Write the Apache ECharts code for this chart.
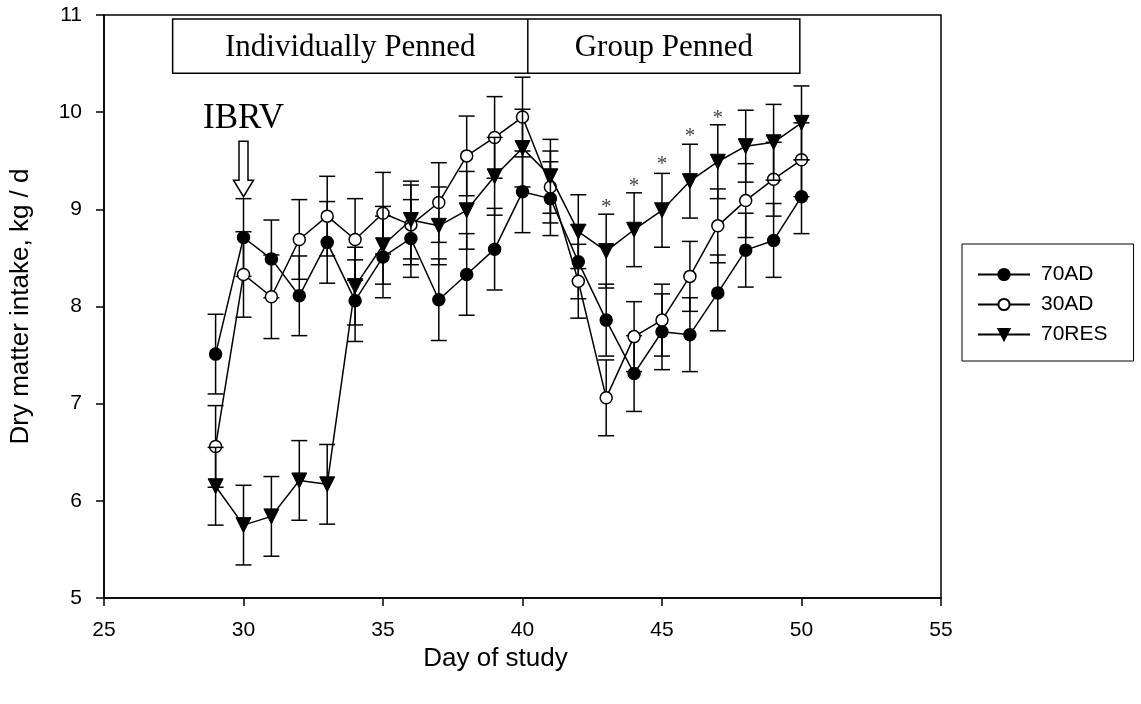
<!DOCTYPE html>
<html>
<head>
<meta charset="utf-8">
<title>Dry matter intake</title>
<script src="https://cdn.jsdelivr.net/npm/echarts@6/dist/echarts.min.js"></script>
<style>
  html, body { margin: 0; padding: 0; background: #ffffff; }
  #chart { width: 1141px; height: 704px; }
</style>
</head>
<body>
<div id="chart"></div>
<script>
// days of study
const days = [29, 30, 31, 32, 33, 34, 35, 36, 37, 38, 39, 40, 41, 42, 43, 44, 45, 46, 47, 48, 49, 50]

// means, kg / d
const ad70 = [7.51, 8.71, 8.49, 8.11, 8.66, 8.06, 8.51, 8.70, 8.07, 8.33, 8.59, 9.18, 9.11, 8.46, 7.86, 7.31, 7.74, 7.71, 8.14, 8.58, 8.68, 9.13]
const ad30 = [6.56, 8.33, 8.10, 8.69, 8.93, 8.69, 8.96, 8.84, 9.07, 9.55, 9.74, 9.95, 9.23, 8.26, 7.06, 7.69, 7.86, 8.31, 8.83, 9.09, 9.31, 9.51]
const res70 = [6.15, 5.75, 5.84, 6.21, 6.17, 8.21, 8.63, 8.89, 8.83, 8.99, 9.34, 9.63, 9.34, 8.77, 8.57, 8.79, 8.99, 9.29, 9.49, 9.65, 9.69, 9.89]

// standard errors
const ad70Se = [0.41, 0.40, 0.40, 0.41, 0.42, 0.42, 0.42, 0.40, 0.42, 0.42, 0.42, 0.42, 0.38, 0.38, 0.37, 0.39, 0.39, 0.38, 0.39, 0.38, 0.38, 0.38]
const ad30Se = [0.42, 0.44, 0.43, 0.41, 0.41, 0.42, 0.42, 0.41, 0.41, 0.41, 0.42, 0.41, 0.37, 0.38, 0.39, 0.36, 0.37, 0.36, 0.38, 0.38, 0.38, 0.38]
const res70Se = [0.40, 0.41, 0.41, 0.41, 0.41, 0.40, 0.40, 0.40, 0.40, 0.40, 0.40, 0.40, 0.38, 0.38, 0.38, 0.38, 0.38, 0.38, 0.38, 0.37, 0.39, 0.38]

// significance marks (*)
const starDays = [43, 44, 45, 46, 47]
const starValues = [9.07, 9.29, 9.51, 9.80, 9.99]

// axis ticks
const xTicks = [25, 30, 35, 40, 45, 50, 55]
const yTicks = [5, 6, 7, 8, 9, 10, 11]

const seriesNames = ['70AD', '30AD', '70RES']

const chart = echarts.init(document.getElementById('chart'))

const pair = (vals) => days.map((d, i) => [d, vals[i]])
const errData = (vals, se) => days.map((d, i) => [d, vals[i], se[i]])

// error bars with caps
const errorBars = (name, vals, se, z) => ({
  name: name + ' SE',
  type: 'custom',
  z: z,
  silent: true,
  data: errData(vals, se),
  encode: { x: 0, y: 1 },
  renderItem: (params, api) => {
    const x = api.value(0)
    const v = api.value(1)
    const s = api.value(2)
    const top = api.coord([x, v + s])
    const bot = api.coord([x, v - s])
    const w = 8
    const st = { stroke: '#000', lineWidth: 1.5 }
    return {
      type: 'group',
      children: [
        { type: 'line', shape: { x1: top[0], y1: top[1], x2: bot[0], y2: bot[1] }, style: st },
        { type: 'line', shape: { x1: top[0] - w, y1: top[1], x2: top[0] + w, y2: top[1] }, style: st },
        { type: 'line', shape: { x1: bot[0] - w, y1: bot[1], x2: bot[0] + w, y2: bot[1] }, style: st },
      ],
    }
  },
})

const serif = '"Liberation Serif", "DejaVu Serif", serif'
const sans = '"Liberation Sans", Arial, sans-serif'

// pen box, IBRV arrow and asterisks
const annotations = {
  type: 'custom',
  z: 10,
  silent: true,
  data: [[0, 0]],
  renderItem: (params, api) => {
    const tl = api.coord([27.46, 10.96])
    const br = api.coord([49.94, 10.40])
    const mid = api.coord([40.19, 10.40])
    const st = { stroke: '#000', lineWidth: 1.5, fill: '#fff' }
    const cy = (tl[1] + br[1]) / 2
    const a = api.coord([30, 9.70])
    const ax = a[0]
    const ay = a[1]
    const shaftBot = api.coord([30, 9.30])[1]
    const tip = api.coord([30, 9.13])[1]
    const lbl = api.coord([30, 9.93])
    const children = [
      { type: 'rect', shape: { x: tl[0], y: tl[1], width: br[0] - tl[0], height: br[1] - tl[1] }, style: st },
      { type: 'line', shape: { x1: mid[0], y1: tl[1], x2: mid[0], y2: br[1] }, style: { stroke: '#000', lineWidth: 1.5 } },
      {
        type: 'text',
        style: { text: 'Individually Penned', x: (tl[0] + mid[0]) / 2, y: cy + 2, align: 'center', verticalAlign: 'middle', font: '31px ' + serif, fill: '#000' },
      },
      {
        type: 'text',
        style: { text: 'Group Penned', x: (mid[0] + br[0]) / 2, y: cy + 2, align: 'center', verticalAlign: 'middle', font: '31px ' + serif, fill: '#000' },
      },
      {
        type: 'text',
        style: { text: 'IBRV', x: lbl[0], y: lbl[1], align: 'center', verticalAlign: 'middle', font: '35px ' + serif, fill: '#000' },
      },
      {
        type: 'polygon',
        shape: {
          points: [
            [ax - 4.5, ay], [ax + 4.5, ay], [ax + 4.5, shaftBot], [ax + 10, shaftBot],
            [ax, tip], [ax - 10, shaftBot], [ax - 4.5, shaftBot],
          ],
        },
        style: { stroke: '#000', lineWidth: 1.5, fill: '#fff' },
      },
    ]
    starDays.forEach((d, i) => {
      const p = api.coord([d, starValues[i]])
      children.push({
        type: 'text',
        style: { text: '*', x: p[0], y: p[1] + 5, align: 'center', verticalAlign: 'middle', font: '21px ' + serif, fill: '#444' },
      })
    })
    return { type: 'group', children: children }
  },
}

const lineBase = {
  type: 'line',
  symbolSize: 12,
  lineStyle: { color: '#000', width: 1.5 },
  emphasis: { disabled: true },
}

const option = {
  animation: false,
  backgroundColor: '#fff',
  color: ['#000'],
  textStyle: { fontFamily: sans },
  grid: {
    left: 104,
    right: 200,
    top: 15,
    bottom: 106,
    show: true,
    borderColor: '#000',
    borderWidth: 1.5,
  },
  legend: {
    data: seriesNames,
    orient: 'vertical',
    left: 962,
    top: 244,
    itemWidth: 52,
    itemHeight: 14,
    itemGap: 9,
    padding: [20, 26, 16, 15],
    borderColor: '#000',
    borderWidth: 1,
    textStyle: { fontFamily: sans, fontSize: 21, color: '#000', padding: [0, 0, 0, 6] },
  },
  xAxis: {
    type: 'value',
    min: xTicks[0],
    max: xTicks[xTicks.length - 1],
    interval: 5,
    name: 'Day of study',
    nameLocation: 'middle',
    nameGap: 44,
    nameTextStyle: { fontFamily: sans, fontSize: 26, color: '#000', padding: [0, 54, 0, 0] },
    axisLine: { lineStyle: { color: '#000', width: 1.5 } },
    axisTick: { show: true, length: 8, lineStyle: { color: '#000', width: 1.5 } },
    axisLabel: { fontFamily: sans, fontSize: 21, color: '#000', margin: 22 },
    splitLine: { show: false },
  },
  yAxis: {
    type: 'value',
    min: yTicks[0],
    max: yTicks[yTicks.length - 1],
    interval: 1,
    name: 'Dry matter intake, kg / d',
    nameLocation: 'middle',
    nameGap: 70,
    nameTextStyle: { fontFamily: sans, fontSize: 26, color: '#000' },
    axisLine: { lineStyle: { color: '#000', width: 1.5 } },
    axisTick: { show: true, length: 8, lineStyle: { color: '#000', width: 1.5 } },
    axisLabel: { fontFamily: sans, fontSize: 21, color: '#000', margin: 22 },
    splitLine: { show: false },
  },
  series: [
    errorBars('70AD', ad70, ad70Se, 2),
    {
      ...lineBase,
      name: '70AD',
      z: 3,
      data: pair(ad70),
      symbol: 'circle',
      itemStyle: { color: '#000', borderColor: '#000', borderWidth: 1.5 },
    },
    errorBars('30AD', ad30, ad30Se, 4),
    {
      ...lineBase,
      name: '30AD',
      z: 5,
      data: pair(ad30),
      symbol: 'circle',
      itemStyle: { color: '#fff', borderColor: '#000', borderWidth: 1.5 },
    },
    errorBars('70RES', res70, res70Se, 6),
    {
      ...lineBase,
      name: '70RES',
      z: 7,
      data: pair(res70),
      symbol: 'triangle',
      symbolRotate: 180,
      symbolSize: 15,
      itemStyle: { color: '#000', borderColor: '#000', borderWidth: 1 },
    },
    annotations,
  ],
}

chart.setOption(option)
</script>
</body>
</html>
